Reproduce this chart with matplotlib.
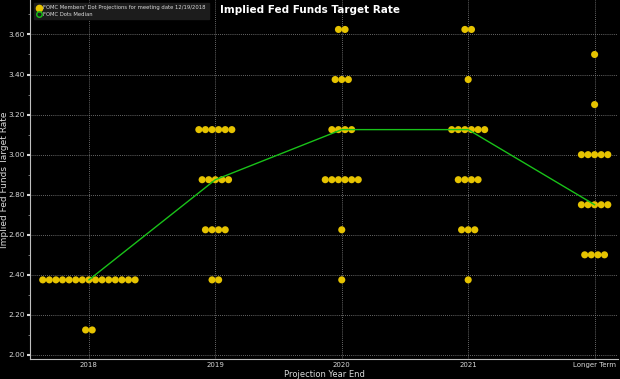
import matplotlib
matplotlib.use("Agg")
import matplotlib.pyplot as plt
from matplotlib.lines import Line2D
import numpy as np

categories = ["2018", "2019", "2020", "2021", "Longer Term"]

# dot projections: list of (rate, count) per category
dots_2018 = [(2.375, 15), (2.125, 2)]
dots_2019 = [(3.125, 6), (2.875, 5), (2.625, 4), (2.375, 2)]
dots_2020 = [(3.625, 2), (3.375, 3), (3.125, 4), (2.875, 6), (2.625, 1), (2.375, 1)]
dots_2021 = [(3.625, 2), (3.375, 1), (3.125, 6), (2.875, 4), (2.625, 3), (2.375, 1)]
dots_longer = [(3.5, 1), (3.25, 1), (3.0, 5), (2.75, 5), (2.5, 4)]
all_dots = [dots_2018, dots_2019, dots_2020, dots_2021, dots_longer]

median = [2.375, 2.875, 3.125, 3.125, 2.75]

yticks = [2.00, 2.20, 2.40, 2.60, 2.80, 3.00, 3.20, 3.40, 3.60]

bg = "black"
dot_color = "#E6C300"
line_color = "#19C219"
grid_color = "#8a8a8a"
text_color = "#d9d9d9"

fig = plt.figure(figsize=(6.2, 3.79), dpi=100, facecolor=bg)
ax = fig.add_axes([30/620, 20/379, 588/620, 359/379])
ax.set_facecolor(bg)

spacing = 0.0522
for i, col in enumerate(all_dots):
    for rate, n in col:
        xs = i + (np.arange(n) - (n - 1) / 2) * spacing
        ax.scatter(xs, [rate] * n, s=26, color=dot_color, edgecolors="none", zorder=3)

ax.plot(range(len(categories)), median, color=line_color, lw=1.0, zorder=4)

ax.set_xlim(-0.466, 4.185)
ax.set_ylim(1.98, 3.772)
ax.set_xticks(range(len(categories)))
ax.set_xticklabels(categories)
ax.set_yticks(yticks)
ax.set_yticklabels([f"{v:.2f}" for v in yticks])
ax.set_yticks(np.arange(2.10, 3.75, 0.2), minor=True)

ax.grid(True, which="major", color=grid_color, linestyle=(0, (1, 1.5)), linewidth=0.6, zorder=1)
ax.tick_params(axis="both", which="major", colors=text_color, labelsize=5.3, length=2.5, width=1.5)
ax.tick_params(axis="x", labelsize=5.0)
ax.tick_params(axis="y", which="minor", colors=grid_color, length=1.5, width=0.6)
ax.tick_params(axis="x", length=0, pad=2)
ax.tick_params(axis="y", pad=1)

for s in ["top", "right"]:
    ax.spines[s].set_visible(False)
for s in ["left", "bottom"]:
    ax.spines[s].set_color("#bfbfbf")
    ax.spines[s].set_linewidth(0.8)

ax.set_ylabel("Implied Fed Funds Target Rate", color=text_color, fontsize=6.5)
ax.yaxis.set_label_coords(-0.036, 0.5)
ax.set_xlabel("Projection Year End", color=text_color, fontsize=6.0)
ax.xaxis.set_label_coords(0.5, -0.03)
fig.text(0.5, 0.973, "Implied Fed Funds Target Rate", color="white", fontsize=7.5,
         fontweight="bold", ha="center", va="center")

handles = [
    Line2D([], [], marker="o", linestyle="none", markerfacecolor=dot_color,
           markeredgecolor=dot_color, markersize=4.5),
    Line2D([], [], marker="o", linestyle="none", markerfacecolor="none",
           markeredgecolor=line_color, markersize=4, markeredgewidth=1),
]
labels = ["FOMC Members' Dot Projections for meeting date 12/19/2018", "FOMC Dots Median"]
leg = ax.legend(handles, labels, loc="upper left", bbox_to_anchor=(0.005, 0.995),
                fontsize=3.8, frameon=True, facecolor="#1c1c1c", edgecolor="#1c1c1c",
                labelcolor=text_color, handletextpad=0.3, borderpad=0.5,
                labelspacing=0.2, handlelength=1.0, borderaxespad=0.2, framealpha=1)
leg.get_frame().set_boxstyle("square", pad=0)

fig.savefig("out.png", dpi=100, facecolor=bg)
